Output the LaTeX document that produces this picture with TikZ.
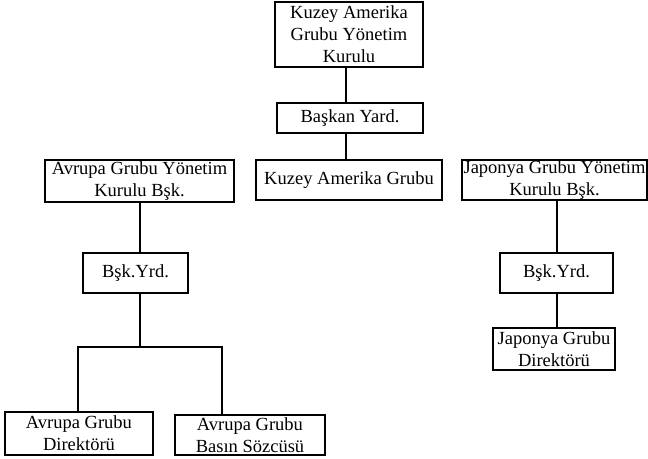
\documentclass[tikz,border=0pt]{standalone}
\usepackage{fontspec}
\setmainfont{Liberation Serif}
\begin{document}
\begin{tikzpicture}[x=1pt,y=-1pt,
  box/.style={draw, line width=1.1pt, inner sep=0pt, align=center,
    font=\fontsize{18.5}{22}\selectfont},
  link/.style={line width=1.1pt}]
\useasboundingbox (0,0) rectangle (648,458);
% Kuzey Amerika
\node[box, minimum width=148pt, minimum height=65pt] (ka1) at (349,34.5) {Kuzey Amerika\\Grubu Yönetim\\Kurulu};
\node[box, minimum width=146pt, minimum height=30pt] (ka2) at (350,118) {Başkan Yard.};
\node[box, minimum width=186pt, minimum height=40pt] (ka3) at (349,180) {Kuzey Amerika Grubu};
\coordinate (kx) at (346,0);
\draw[link] (ka1.south -| kx) -- (ka2.north -| kx);
\draw[link] (ka2.south -| kx) -- (ka3.north -| kx);
% Avrupa
\node[box, minimum width=189pt, minimum height=42pt] (av1) at (139.5,181) {Avrupa Grubu Yönetim\\Kurulu Bşk.};
\node[box, minimum width=105pt, minimum height=40pt] (av2) at (135.5,273) {Bşk.Yrd.};
\node[box, minimum width=148pt, minimum height=43pt] (av3) at (79,433.5) {Avrupa Grubu\\Direktörü};
\node[box, minimum width=150pt, minimum height=40pt] (av4) at (250,435) {Avrupa Grubu\\Basın Sözcüsü};
\coordinate (ax) at (140,0);
\coordinate (bl) at (78,347);
\coordinate (bm) at (140,347);
\coordinate (br) at (222,347);
\draw[link] (av1.south -| ax) -- (av2.north -| ax);
\draw[link] (av2.south -| ax) -- (bm);
\draw[link] (av3.north -| bl) -- (bl) -- (br) -- (av4.north -| br);
% Japonya
\node[box, minimum width=185pt, minimum height=40pt] (jp1) at (554.5,180) {Japonya Grubu Yönetim\\Kurulu Bşk.};
\node[box, minimum width=113pt, minimum height=40pt] (jp2) at (556.5,273) {Bşk.Yrd.};
\node[box, minimum width=122pt, minimum height=42pt] (jp3) at (554,349) {Japonya Grubu\\Direktörü};
\coordinate (jx) at (557,0);
\draw[link] (jp1.south -| jx) -- (jp2.north -| jx);
\draw[link] (jp2.south -| jx) -- (jp3.north -| jx);
\end{tikzpicture}
\end{document}
